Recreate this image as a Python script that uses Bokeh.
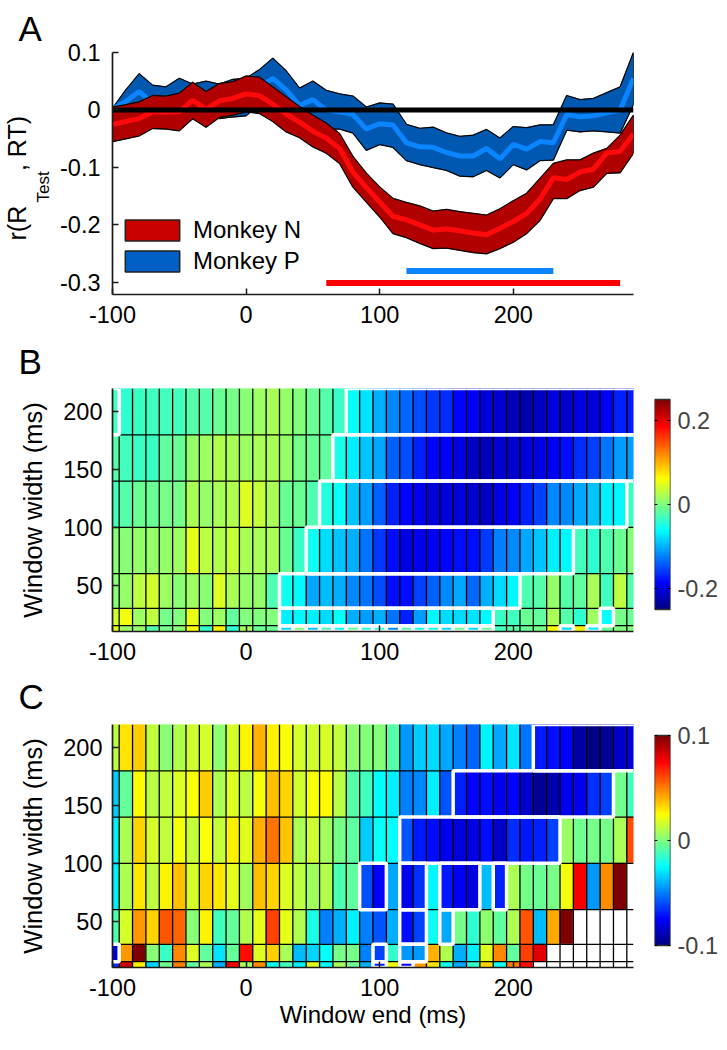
import numpy as np
from bokeh.embed import file_html
from bokeh.resources import INLINE
from bokeh.plotting import figure
from bokeh.layouts import column, row
from bokeh.models import (ColumnDataSource, FixedTicker, Legend, LegendItem,
                          LinearColorMapper, Range1d, Title)
from bokeh.transform import linear_cmap

FONT = "Liberation Sans"
N = float("nan")
NB = "\u00a0"

lag_ms = list(range(-100, 300, 10))
tick_x = [-100, 0, 100, 200]

monkey_n_upper = [0.005,0.009,0.014,0.025,0.024,0.029,0.048,0.032,0.046,0.049,0.059,0.057,0.04,0.023,0.006,-0.009,-0.023,-0.041,-0.081,-0.11,-0.134,-0.154,-0.161,-0.167,-0.176,-0.173,-0.177,-0.18,-0.183,-0.172,-0.158,-0.145,-0.119,-0.093,-0.087,-0.087,-0.075,-0.067,-0.044,-0.009]
monkey_n_mean = [-0.025,-0.02,-0.015,-0.003,-0.004,-0.003,0.017,0.001,0.016,0.02,0.028,0.025,0.01,-0.007,-0.021,-0.037,-0.049,-0.067,-0.108,-0.135,-0.16,-0.185,-0.191,-0.2,-0.209,-0.207,-0.21,-0.214,-0.217,-0.206,-0.194,-0.18,-0.155,-0.118,-0.121,-0.108,-0.103,-0.075,-0.072,-0.042]
monkey_n_lower = [-0.055,-0.05,-0.045,-0.032,-0.033,-0.036,-0.015,-0.03,-0.013,-0.009,-0.003,-0.006,-0.02,-0.038,-0.048,-0.064,-0.075,-0.093,-0.134,-0.16,-0.186,-0.215,-0.222,-0.232,-0.241,-0.24,-0.244,-0.248,-0.25,-0.241,-0.23,-0.215,-0.192,-0.154,-0.154,-0.14,-0.134,-0.11,-0.109,-0.075]
monkey_p_upper = [0.003,0.035,0.063,0.043,0.04,0.055,0.045,0.05,0.045,0.053,0.055,0.07,0.09,0.068,0.038,0.05,0.034,0.028,0.024,0.005,0.012,0.01,-0.025,-0.032,-0.03,-0.04,-0.046,-0.044,-0.034,-0.049,-0.029,-0.031,-0.026,-0.026,0.025,0.018,0.02,0.03,0.04,0.1]
monkey_p_mean = [0.002,0.015,0.032,0.012,0.01,0.025,0.015,0.02,0.015,0.02,0.022,0.04,0.055,0.035,0.008,0.018,0.0,-0.003,-0.008,-0.033,-0.024,-0.026,-0.057,-0.064,-0.065,-0.074,-0.08,-0.08,-0.067,-0.085,-0.06,-0.068,-0.055,-0.057,-0.008,-0.012,-0.01,-0.005,0.0,0.055]
monkey_p_lower = [-0.002,-0.005,0.0,-0.018,-0.02,-0.005,-0.015,-0.01,-0.015,-0.012,-0.01,0.01,0.02,0.002,-0.022,-0.015,-0.033,-0.033,-0.04,-0.07,-0.06,-0.065,-0.088,-0.095,-0.1,-0.105,-0.115,-0.116,-0.105,-0.118,-0.095,-0.104,-0.088,-0.087,-0.035,-0.038,-0.036,-0.038,-0.04,0.01]
sig_n = [60, 280]
sig_p = [120, 230]

window_edges = [220, 180, 140, 100, 60, 30, 15, 10]

b_200 = [-3,-4,-3.5,-3,-3,-3,-2,-2,-1,-0.5, 0.5,1.5,2,1,0,-1,-2,-3.5,-6,-7.5, -10,-12,-13.5,-15,-16,-16.5,-18.5,-19,-20.5,-21, -22,-22.5,-21.5,-20.5,-21,-20,-20.5,-19,-17,-17.5]
b_160 = [-2,-3,-3.5,-3.5,-1.5,-1,1,1.5,2.5,2, 1.5,2,2,1,-0.5,-1,-1.5,-5,-7,-9, -10.5,-14,-15,-17,-18.5,-19,-20,-21.5,-22,-21, -21,-20.5,-20,-19,-18,-16.5,-15.5,-13,-11,-11]
b_120 = [-3,-2,-1,-1,-0.5,-0.5,2,1,2,2.5, 4.5,3.5,2,-1,-1,-2.5,-4.5,-6,-9,-11, -14,-17,-18.5,-19.5,-20.5,-20.5,-20.5,-21,-21.5,-20, -19,-17,-15.5,-12,-12,-10.5,-9,-7,-6.5,-3.5]
b_80 = [0.5,0.5,1,1,1,1.5,5,3,2.5,3.5, 2,2,2,-1,-3.5,-5.5,-8,-9,-10,-13, -16,-18,-20,-19.5,-19,-18.5,-18,-18,-16,-12.5, -12,-10.5,-9,-7,-6.5,-3,-4,-2.5,-1,0]
b_40 = [0.5,1,3,4,1.5,0.5,1.5,0.5,4.5,2, 1,1,-2.5,-5.5,-6.5,-10.5,-9.5,-10,-12,-13, -15,-18,-18,-15.5,-14,-12,-10.5,-13.5,-10,-8, -6.5,-2.5,-2,1,-2,-1.5,2,-3,3,-2]
b_20 = [4,5.5,1.5,3,-0.5,0,5,0,1.5,-1.5, 0,0,0,-7,-6.5,-7,-8,-6,-10,-11, -10,-13,-17,-11,-6.5,-8,-8,-7.5,-6.5,-3.5, -3,-1,-1.5,2,-2,-4,1.5,-6,-0.5,-1]
b_10 = [5,1.5,1,-2,-0.5,0.5,6,-4,7,-4, 2,-1,-1,-8,0,-9,-3,-6,-1,-4, -4,-12,-2,-5,-5,-8,-1,-8,-1,-3, -2,-1,-0.5,6,-8,6.5,-7,-1,0,0]
panel_b = [b_200, b_160, b_120, b_80, b_40, b_20, b_10]

c_200 = [12,30,35,13,2,10,15,17,3,17, 27,40,28,24,17,16,17,13,3,1, 1,-8,-45,-35,-32,-42,-50,-55,-27,-42, -29,-52,-70,-72,-75,-92,-98,-95,-85,-80]
c_160 = [-35,-5,25,11,13,18,24,35,9,18, 12,23,37,33,16,24,25,11,-8,-12, -25,-28,-50,-48,-28,-58,-68,-75,-72,-78, -75,-85,-95,-90,-78,-78,-65,-62,-3,-12]
c_120 = [-28,9,33,17,13,23,14,24,14,28, 19,40,52,36,9,15,7,-2,-7,-35, -24,-25,-58,-70,-72,-78,-82,-80,-72,-85, -66,-70,-68,-62,5,-3,-2,-2,8,60]
c_80 = [-28,9,29,12,27,37,17,33,29,20, 7,37,33,18,12,7,10,-10,-7,-60, -75,-42,-78,-65,-26,-70,-76,-80,-38,-68, 8,-2,-4,-1,22,76,-45,47,100,N]
c_40 = [-10,17,45,33,58,55,2,27,-12,-5, 10,20,62,20,10,-20,-50,-40,-27,-50, -58,-40,-72,-62,-22,-42,-2,-16,3,-6, 9,58,-38,42,100,N,N,N,N,N]
c_20 = [-80,45,100,2,-14,48,18,-6,-30,-5, 72,18,34,8,-38,-33,-24,-2,-2,-50, -62,-15,-45,-45,40,10,-40,-28,18,48, -6,62,80,N,N,N,N,N,N,N]
c_10 = [-65,85,28,-33,-3,50,-6,8,-40,77, 8,47,-22,-12,-28,18,-26,8,-3,-40, -70,22,-75,45,30,-22,-42,-15,33,-22, 50,72,N,N,N,N,N,N,N,N]
panel_c = [c_200, c_160, c_120, c_80, c_40, c_20, c_10]

# significant runs: (row, first window end, last window end)
runs_b = [(0,-100,-100),(0,80,290),(1,70,290),(2,60,280),(3,50,240),(4,30,200),(5,30,180),(5,270,270),
          (6,240,240),(6,260,260)] + [(6,e,e) for e in range(30,190,10)]
runs_c = [(0,220,290),(1,160,270),(2,120,230),(3,90,100),(3,120,130),(3,150,170),(3,190,190),
          (4,120,130),(4,150,150),(5,-100,-100),(5,100,100),(5,120,130),(6,100,100),(6,120,120)]


def jet(t):
    r = np.clip(min(4*t-1.5, -4*t+4.5), 0, 1)
    g = np.clip(min(4*t-0.5, -4*t+3.5), 0, 1)
    b = np.clip(min(4*t+0.5, -4*t+2.5), 0, 1)
    return "#%02x%02x%02x" % (int(r*255), int(g*255), int(b*255))

JET = [jet(i/255) for i in range(256)]
TICK_FS = "23.5px"


def style_axes(p):
    for ax in (p.xaxis[0], p.yaxis[0]):
        ax.axis_line_color = "#1a1a1a"
        ax.axis_line_width = 1.7
        ax.major_tick_line_color = "#1a1a1a"
        ax.major_tick_line_width = 1.5
        ax.major_tick_in = 6
        ax.major_tick_out = 0
        ax.minor_tick_line_color = None
        ax.major_label_text_font = FONT
        ax.major_label_text_font_size = TICK_FS
        ax.major_label_text_color = "black"
        ax.axis_label_text_font = FONT
        ax.axis_label_text_font_style = "normal"
        ax.axis_label_text_color = "black"
    p.xaxis[0].ticker = FixedTicker(ticks=tick_x)
    p.xaxis[0].major_label_overrides = {t: str(t) for t in tick_x}
    p.xaxis[0].major_label_standoff = 11
    p.xaxis[0].axis_label_text_font_size = "24px"
    p.yaxis[0].axis_label_text_font_size = "25.5px"
    p.yaxis[0].major_label_standoff = 10
    p.grid.visible = False
    p.outline_line_color = None


def letter(p, s, standoff):
    p.add_layout(Title(text=s, align="left", offset=-94, standoff=standoff, vertical_align="top",
                       text_font=FONT, text_font_size="35px", text_font_style="normal",
                       text_color="black"), "above")


def panel_heat(values, scale, low, high, runs, top, bottom):
    x0, x1, y0, y1, v = [], [], [], [], []
    for r, vals in enumerate(values):
        for i, e in enumerate(lag_ms):
            x0.append(e-5); x1.append(e+5)
            y0.append(window_edges[r+1]); y1.append(window_edges[r])
            v.append(vals[i]*scale)
    src = ColumnDataSource(dict(x0=x0, x1=x1, y0=y0, y1=y1, v=v))
    p = figure(frame_width=521, frame_height=243, min_border_left=112, min_border_right=2,
               min_border_top=top, min_border_bottom=bottom, x_range=Range1d(-100, 290),
               y_range=Range1d(10, 220), toolbar_location=None, output_backend="svg")
    cmap = linear_cmap("v", JET, low, high, nan_color="white")
    p.quad(left="x0", right="x1", bottom="y0", top="y1", source=src, fill_color=cmap, line_color=cmap)
    vx = [e+5 for e in lag_ms[:-1]]
    p.segment(vx, [10]*len(vx), vx, [220]*len(vx), line_color="black", line_width=1.3)
    hy = window_edges[1:-1]
    p.segment([-100]*len(hy), hy, [290]*len(hy), hy, line_color="black", line_width=1.3)
    bl = [e0-5 for _, e0, _ in runs]
    br = [e1+5 for _, _, e1 in runs]
    bb = [window_edges[r+1] for r, _, _ in runs]
    bt = [window_edges[r] for r, _, _ in runs]
    p.quad(left=bl, right=br, bottom=bb, top=bt, fill_color=None, line_color="white", line_width=3.5)
    style_axes(p)
    p.yaxis[0].ticker = FixedTicker(ticks=[50, 100, 150, 200])
    p.yaxis[0].axis_label = "Window width (ms)"
    p.yaxis[0].axis_label_standoff = 13
    return p


def colorbar(low, high, ticks, labels, top, bottom):
    unit = (high-low)/210          # data per pixel: the bar is 210 px tall inside a 243 px frame
    p = figure(frame_width=16, frame_height=243, min_border_left=19, min_border_right=45,
               min_border_top=top, min_border_bottom=bottom,
               x_range=Range1d(0, 1), y_range=Range1d(low-22*unit, high+11*unit), toolbar_location=None,
               output_backend="svg", x_axis_location=None, y_axis_location="right")
    mapper = LinearColorMapper(palette=JET, low=low, high=high)
    grad = np.linspace(low, high, 256).reshape(256, 1)
    p.image(image=[grad], x=0, y=low, dw=1, dh=high-low, color_mapper=mapper)
    p.quad(left=[0], right=[1], bottom=[low], top=[high], fill_color=None, line_color="#333333", line_width=1.5)
    p.grid.visible = False
    p.outline_line_color = None
    ax = p.yaxis[0]
    ax.ticker = FixedTicker(ticks=ticks)
    ax.major_label_overrides = labels
    ax.major_tick_in = 3
    ax.major_tick_out = 0
    ax.minor_tick_line_color = None
    ax.axis_line_color = None
    ax.major_tick_line_color = "black"
    ax.major_label_text_font = FONT
    ax.major_label_text_font_size = TICK_FS
    ax.major_label_standoff = 7
    p.segment([0]*len(ticks), ticks, [0.18]*len(ticks), ticks, line_color="black", line_width=1)
    return p


# Panel A
pa = figure(frame_width=521, frame_height=242, min_border_left=112, min_border_right=2,
            min_border_top=52, min_border_bottom=41, x_range=Range1d(-100, 290),
            y_range=Range1d(-0.321, 0.1), toolbar_location=None, output_backend="svg")
band_x = lag_ms + lag_ms[::-1]
key_p = pa.patch(band_x, monkey_p_upper + monkey_p_lower[::-1], fill_color="#0060C8", line_color="#222222", line_width=1.5)
pa.patch(band_x, monkey_p_upper + monkey_p_lower[::-1], fill_color="#0058B0", line_color="black", line_width=1)
pa.line(lag_ms, monkey_p_mean, line_color="#0A84FF", line_width=5)
key_n = pa.patch(band_x, monkey_n_upper + monkey_n_lower[::-1], fill_color="#C80000", line_color="#222222", line_width=1.5)
pa.patch(band_x, monkey_n_upper + monkey_n_lower[::-1], fill_color="#B00000", line_color="black", line_width=1)
pa.line(lag_ms, monkey_n_mean, line_color="#FF0A0A", line_width=5)
pa.line([-100, 290], [0, 0], line_color="black", line_width=5)
pa.line(sig_p, [-0.28, -0.28], line_color="#0A84FF", line_width=6)
pa.line(sig_n, [-0.301, -0.301], line_color="#FF0000", line_width=6)
style_axes(pa)
pa.yaxis[0].ticker = FixedTicker(ticks=[-0.3, -0.2, -0.1, 0, 0.1])
pa.yaxis[0].major_label_overrides = {-0.3: "-0.3", -0.2: "-0.2", -0.1: "-0.1", 0: "0", 0.1: "0.1"}
pa.yaxis[0].major_label_standoff = 12
leg = Legend(items=[LegendItem(label="Monkey N", renderers=[key_n]), LegendItem(label="Monkey P", renderers=[key_p])],
             location=(6, 19), glyph_width=68, glyph_height=26, spacing=3, label_standoff=7,
             padding=0, margin=0, background_fill_alpha=0, border_line_alpha=0,
             label_text_font=FONT, label_text_font_size="24px", label_text_color="black")
pa.add_layout(leg, "center")
letter(pa, "A", 6)
# y label: subscript next to the axis, main text outside it, with a gap left for the subscript
pa.add_layout(Title(text="Test", align="left", offset=92, standoff=9, text_font=FONT, text_font_size="17px",
                    text_font_style="normal", text_color="black"), "left")
pa.add_layout(Title(text="r(R" + NB*5 + ", RT)", align="left", offset=54, standoff=-7, text_font=FONT,
                    text_font_size="25px", text_font_style="normal", text_color="black"), "left")

# Panel B
pb = panel_heat(panel_b, 0.01, -0.25, 0.25, runs_b, 53, 39)
letter(pb, "B", 12)
cb_b = colorbar(-0.25, 0.25, [-0.2, 0, 0.2], {-0.2: "-0.2", 0: "0", 0.2: "0.2"}, 53, 39)

# Panel C
pc = panel_heat(panel_c, 0.001, -0.1, 0.1, runs_c, 54, 73)
pc.xaxis[0].axis_label = "Window end (ms)"
pc.xaxis[0].axis_label_standoff = 2
letter(pc, "C", 13)
cb_c = colorbar(-0.1, 0.1, [-0.1, 0, 0.1], {-0.1: "-0.1", 0: "0", 0.1: "0.1"}, 54, 73)

page = column(pa, row(pb, cb_b, spacing=0), row(pc, cb_c, spacing=0), spacing=0)
open("out.html", "w").write(file_html(page, INLINE))
